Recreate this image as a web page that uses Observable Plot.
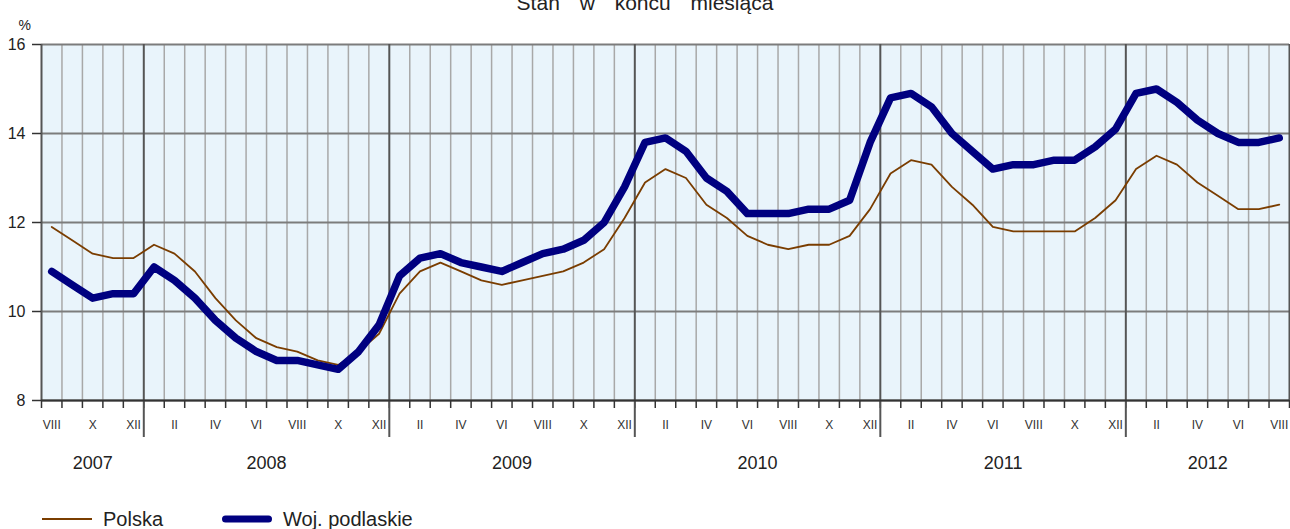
<!DOCTYPE html>
<html>
<head>
<meta charset="utf-8">
<script src="https://cdn.jsdelivr.net/npm/d3@7"></script>
<script src="https://cdn.jsdelivr.net/npm/@observablehq/plot@0.6"></script>
<style>
  html, body { margin: 0; padding: 0; background: #fff; }
  body { font-family: "Liberation Sans", Arial, sans-serif; color: #222; }
  #wrap { position: relative; width: 1290px; height: 529px; overflow: hidden; }
  #title { position: absolute; left: 0; top: -8px; width: 1290px; text-align: center;
           font-size: 21px; line-height: 21px; word-spacing: 14px; color: #222; }
  #chart { position: absolute; left: 0; top: 0; }
  #legend { position: absolute; left: 0; top: 507px; height: 24px; width: 1290px; font-size: 20px; color: #222; }
  .item { position: absolute; top: 0; display: flex; align-items: center; height: 24px; }
  .item svg { display: block; margin-right: 11px; }
</style>
</head>
<body>
<div id="wrap">
  <div id="chart"></div>
  <div id="title">Stan w końcu miesiąca</div>
  <div id="legend"></div>
</div>
<script>
// ---- data ----
const startYear = 2007;
const startMonth = 8; // VIII
const romanMonths = ["I","II","III","IV","V","VI","VII","VIII","IX","X","XI","XII"];
const seriesNames = ["Polska", "Woj. podlaskie"];
const yTicks = [8, 10, 12, 14, 16];

const polska = [
  11.9, 11.6, 11.3, 11.2, 11.2,
  11.5, 11.3, 10.9, 10.3, 9.8, 9.4, 9.2, 9.1, 8.9, 8.8, 9.1, 9.5,
  10.4, 10.9, 11.1, 10.9, 10.7, 10.6, 10.7, 10.8, 10.9, 11.1, 11.4, 12.1,
  12.9, 13.2, 13.0, 12.4, 12.1, 11.7, 11.5, 11.4, 11.5, 11.5, 11.7, 12.3,
  13.1, 13.4, 13.3, 12.8, 12.4, 11.9, 11.8, 11.8, 11.8, 11.8, 12.1, 12.5,
  13.2, 13.5, 13.3, 12.9, 12.6, 12.3, 12.3, 12.4
];
const podlaskie = [
  10.9, 10.6, 10.3, 10.4, 10.4,
  11.0, 10.7, 10.3, 9.8, 9.4, 9.1, 8.9, 8.9, 8.8, 8.7, 9.1, 9.7,
  10.8, 11.2, 11.3, 11.1, 11.0, 10.9, 11.1, 11.3, 11.4, 11.6, 12.0, 12.8,
  13.8, 13.9, 13.6, 13.0, 12.7, 12.2, 12.2, 12.2, 12.3, 12.3, 12.5, 13.8,
  14.8, 14.9, 14.6, 14.0, 13.6, 13.2, 13.3, 13.3, 13.4, 13.4, 13.7, 14.1,
  14.9, 15.0, 14.7, 14.3, 14.0, 13.8, 13.8, 13.9
];

const colors = { polska: "#7a3d00", podlaskie: "#000080" };

// ---- derived table ----
const n = polska.length;
const rows = d3.range(n).map(i => {
  const m = (startMonth - 1 + i) % 12;           // 0-based month
  const year = startYear + Math.floor((startMonth - 1 + i) / 12);
  return { i, month: m + 1, roman: romanMonths[m], year, polska: polska[i], podlaskie: podlaskie[i] };
});
const allBounds = d3.range(0, n + 1);
const yearBounds = rows.filter(r => r.month === 1).map(r => r.i);
const minorBounds = allBounds.filter(b => b > 0 && b < n && !yearBounds.includes(b));
const labelRows = rows.filter(r => r.month % 2 === 0);
const years = d3.groups(rows, r => r.year).map(([year, rs]) => ({
  year: String(year),
  mid: (d3.min(rs, r => r.i) + d3.max(rs, r => r.i) + 1) / 2
}));

const chart = Plot.plot({
  width: 1290,
  height: 480,
  marginLeft: 41,
  marginRight: 1,
  marginTop: 44,
  marginBottom: 80,
  x: { domain: [0, n], axis: null, label: null },
  y: { domain: [8, 16], axis: null, label: null },
  style: { fontFamily: "'Liberation Sans', Arial, sans-serif", background: "transparent", overflow: "visible", color: "#222" },
  marks: [
    Plot.frame({ fill: "#e9f4fb", stroke: null }),
    Plot.ruleX(minorBounds, { y1: 8, y2: 16, stroke: "#a8a8a8", strokeWidth: 1.5 }),
    Plot.ruleY(yTicks, { stroke: "#7c7c7c", strokeWidth: 2 }),
    Plot.ruleX([0, n], { y1: 8, y2: 16, stroke: "#555", strokeWidth: 2 }),
    Plot.ruleX(yearBounds, { y1: 8, y2: 16, stroke: "#555", strokeWidth: 2 }),
    Plot.axisX({ ticks: allBounds, tickSize: 8, tickFormat: () => "", label: null, stroke: "#333", strokeWidth: 1.5 }),
    Plot.axisX({ ticks: yearBounds, tickSize: 37, tickFormat: () => "", label: null, stroke: "#555", strokeWidth: 2 }),
    Plot.ruleY([8], { stroke: "#333", strokeWidth: 2 }),
    Plot.axisY({ ticks: yTicks, tickSize: 9, tickPadding: 7, fontSize: 16, label: null, stroke: "#333", strokeWidth: 1.5 }),
    Plot.text(["%"], { frameAnchor: "top-left", dx: -23, dy: -24, fontSize: 14, fill: "#222" }),
    Plot.line(rows, { x: d => d.i + 0.5, y: "polska", stroke: colors.polska, strokeWidth: 1.8 }),
    Plot.line(rows, { x: d => d.i + 0.5, y: "podlaskie", stroke: colors.podlaskie, strokeWidth: 7.5, strokeLinejoin: "round", strokeLinecap: "round" }),
    Plot.text(labelRows, { x: d => d.i + 0.5, text: "roman", frameAnchor: "bottom", dy: 28, fontSize: 12, fill: "#333" }),
    Plot.text(years, { x: "mid", text: "year", frameAnchor: "bottom", dy: 68, fontSize: 18, fill: "#222" })
  ]
});
document.getElementById("chart").appendChild(chart);

// ---- legend ----
const legend = document.getElementById("legend");
const items = [
  { name: seriesNames[0], color: colors.polska, w: 1.8, left: 42 },
  { name: seriesNames[1], color: colors.podlaskie, w: 7, left: 222 }
];
items.forEach(it => {
  const div = document.createElement("div");
  div.className = "item";
  div.style.left = it.left + "px";
  div.innerHTML = `<svg width="50" height="12"><line x1="${it.w > 3 ? 3.5 : 0}" x2="${it.w > 3 ? 46.5 : 50}" y1="6" y2="6" stroke="${it.color}" stroke-width="${it.w}" stroke-linecap="${it.w > 3 ? "round" : "butt"}"/></svg><span>${it.name}</span>`;
  legend.appendChild(div);
});
</script>
</body>
</html>
